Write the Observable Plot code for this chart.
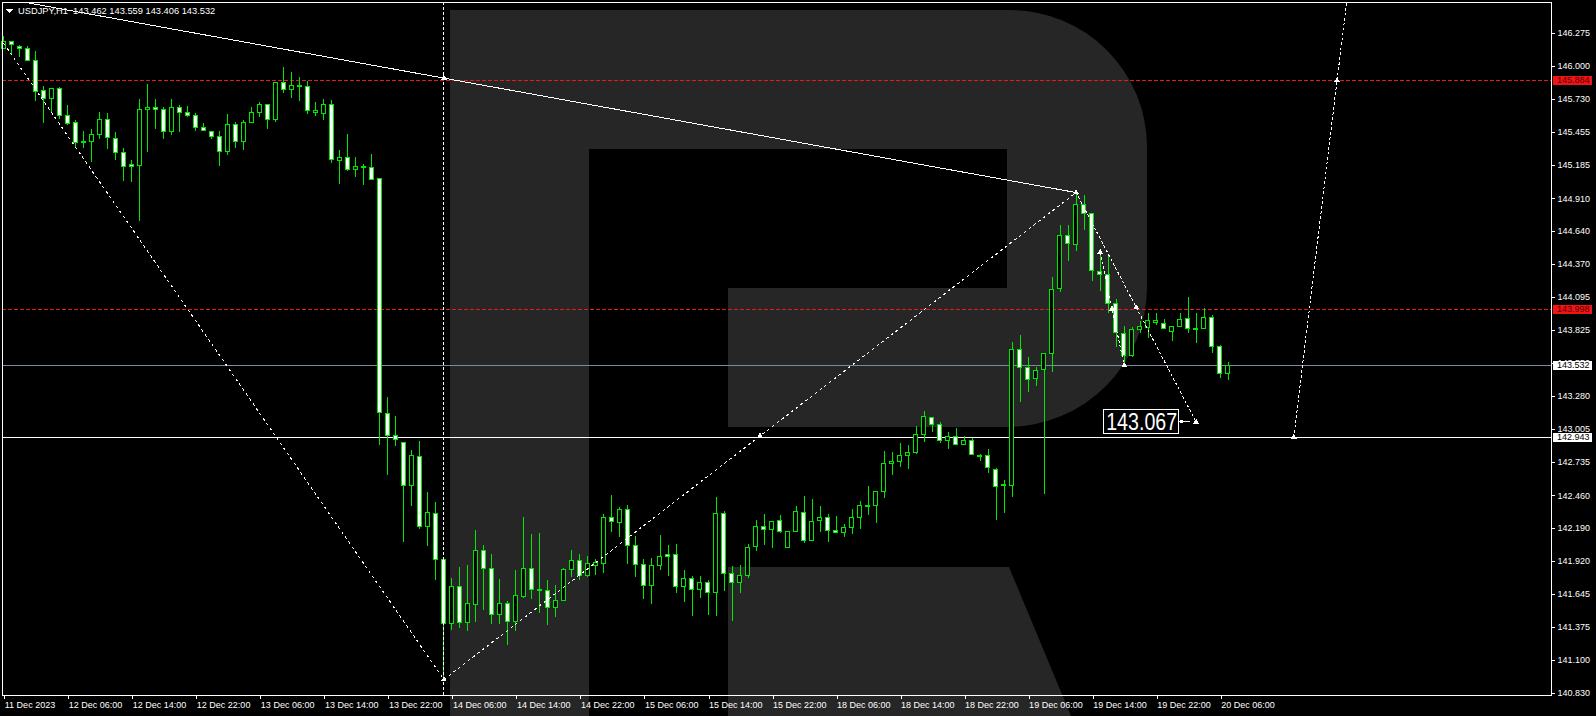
<!DOCTYPE html>
<html><head><meta charset="utf-8">
<script src="https://cdn.jsdelivr.net/npm/d3@7"></script>
<script src="https://cdn.jsdelivr.net/npm/@observablehq/plot@0.6"></script>
<style>
html,body{margin:0;padding:0;background:#000;overflow:hidden}
#chart svg{display:block}
</style></head><body><div id="chart"></div>
<script>
// ---- data ----
const symbolTitle = "USDJPY,H1  143.462 143.559 143.406 143.532";
const opens = [146.146,146.206,146.165,146.146,146.047,145.794,145.730,145.816,145.593,145.535,
145.370,145.376,145.433,145.560,145.403,145.288,145.189,145.178,145.642,145.659,
145.642,145.461,145.659,145.618,145.593,145.494,145.461,145.420,145.293,145.519,
145.378,145.535,145.618,145.684,145.560,145.865,145.807,145.833,145.832,145.615,
145.610,145.684,145.222,145.247,145.148,145.170,145.164,145.075,143.131,142.952,
142.892,142.540,142.778,142.202,142.310,141.929,141.403,141.707,141.412,141.559,
142.003,141.855,141.477,141.568,141.417,141.625,141.855,141.679,141.673,141.534,
141.591,141.846,141.917,141.798,141.880,141.895,142.276,142.232,142.342,142.045,
141.889,141.715,141.880,141.971,141.971,141.707,141.773,141.682,141.740,141.657,
142.309,141.814,141.740,141.798,142.034,142.205,142.177,142.252,142.029,142.161,
142.318,142.087,142.252,142.276,142.169,142.153,142.194,142.276,142.372,142.375,
142.491,142.722,142.738,142.788,142.813,142.961,143.101,143.044,142.914,142.942,
142.879,142.914,142.785,142.785,142.672,142.543,142.543,143.662,143.514,143.423,
143.497,143.629,144.166,144.603,144.529,144.861,144.784,144.303,144.281,144.042,
143.794,143.610,143.827,143.844,143.885,143.877,143.811,143.849,143.918,143.836,
143.833,143.929,143.690,143.462];
const highs = [146.248,146.206,146.173,146.165,146.124,145.835,145.816,145.824,145.678,145.554,
145.464,145.480,145.620,145.609,145.453,145.321,145.224,145.728,145.851,145.728,
145.659,145.728,145.678,145.670,145.609,145.527,145.461,145.464,145.604,145.535,
145.554,145.659,145.703,145.684,145.871,145.989,145.948,145.906,145.873,145.703,
145.728,145.720,145.307,145.439,145.247,145.192,145.274,145.080,143.270,143.114,
142.892,142.832,142.903,142.486,142.403,141.929,141.775,141.866,141.883,142.173,
142.048,141.974,141.767,141.588,141.844,142.278,142.139,142.148,141.758,141.719,
141.858,142.006,141.974,141.954,141.929,142.304,142.460,142.359,142.378,142.120,
141.933,141.938,142.131,142.048,142.056,141.842,141.792,141.792,141.759,142.444,
142.329,141.875,141.883,142.056,142.254,142.304,142.243,142.296,142.161,142.370,
142.452,142.428,142.370,142.304,142.287,142.219,142.342,142.411,142.535,142.491,
142.824,142.815,142.890,142.871,143.027,143.156,143.101,143.063,142.980,143.016,
142.950,142.934,142.802,142.837,142.681,142.584,143.726,143.781,143.596,143.520,
143.629,144.256,144.688,144.688,144.960,144.936,144.784,144.468,144.432,144.075,
143.858,143.849,143.896,143.959,143.959,143.910,143.855,143.959,144.094,143.959,
144.001,143.943,143.700,143.559];
const lows = [146.140,146.091,146.077,146.044,145.714,145.532,145.615,145.560,145.513,145.329,
145.326,145.211,145.398,145.318,145.224,145.054,145.046,144.724,145.293,145.480,
145.400,145.433,145.455,145.576,145.466,145.461,145.400,145.178,145.268,145.326,
145.307,145.535,145.576,145.480,145.535,145.774,145.739,145.714,145.604,145.588,
145.555,145.203,145.027,145.137,145.087,145.019,145.060,142.875,142.628,142.867,
142.076,142.372,142.179,142.042,141.761,140.943,141.349,141.366,141.340,141.417,
141.514,141.394,141.394,141.227,141.340,141.610,141.605,141.491,141.392,141.457,
141.591,141.787,141.758,141.787,141.804,141.821,142.157,142.117,141.894,141.787,
141.605,141.564,141.845,141.795,141.649,141.581,141.465,141.613,141.473,141.465,
141.671,141.424,141.655,141.779,142.001,142.048,142.026,142.147,142.029,142.161,
142.067,142.087,142.158,142.073,142.150,142.117,142.142,142.183,142.298,142.232,
142.439,142.628,142.694,142.672,142.799,142.900,142.978,142.887,142.837,142.879,
142.879,142.791,142.744,142.639,142.254,142.315,142.447,143.231,143.313,143.363,
142.469,143.473,144.138,144.394,144.476,144.647,144.229,144.146,143.965,143.679,
143.514,143.596,143.794,143.753,143.863,143.833,143.731,143.849,143.800,143.717,
143.833,143.635,143.430,143.406];
const closes = [146.206,146.176,146.143,146.044,145.788,145.730,145.816,145.590,145.524,145.367,
145.376,145.436,145.560,145.411,145.285,145.169,145.169,145.642,145.659,145.642,
145.461,145.659,145.618,145.590,145.494,145.469,145.417,145.293,145.519,145.378,
145.535,145.618,145.684,145.560,145.865,145.807,145.840,145.837,145.631,145.637,
145.684,145.230,145.247,145.148,145.173,145.175,145.065,143.142,142.952,142.921,
142.540,142.787,142.202,142.318,141.929,141.403,141.707,141.412,141.568,142.003,
141.855,141.477,141.568,141.417,141.633,141.855,141.679,141.676,141.534,141.591,
141.846,141.917,141.798,141.897,141.900,142.275,142.244,142.342,142.045,141.889,
141.715,141.880,141.955,141.955,141.707,141.773,141.682,141.740,141.657,142.309,
141.814,141.740,141.798,142.029,142.205,142.177,142.243,142.158,142.161,142.326,
142.087,142.243,142.276,142.169,142.153,142.194,142.276,142.375,142.378,142.491,
142.722,142.741,142.788,142.813,142.964,143.110,143.044,142.914,142.942,142.879,
142.914,142.799,142.786,142.689,142.535,142.545,143.662,143.514,143.415,143.492,
143.629,144.157,144.603,144.537,144.861,144.784,144.314,144.281,144.042,143.803,
143.613,143.827,143.847,143.902,143.902,143.838,143.855,143.910,143.836,143.838,
143.929,143.690,143.462,143.532];
const timeLabels = ["11 Dec 2023","12 Dec 06:00","12 Dec 14:00","12 Dec 22:00","13 Dec 06:00",
"13 Dec 14:00","13 Dec 22:00","14 Dec 06:00","14 Dec 14:00","14 Dec 22:00","15 Dec 06:00",
"15 Dec 14:00","15 Dec 22:00","18 Dec 06:00","18 Dec 14:00","18 Dec 22:00","19 Dec 06:00",
"19 Dec 14:00","19 Dec 22:00","20 Dec 06:00"];
const barsPerLabel = 8;
const priceTicks = [146.275,146.000,145.730,145.455,145.185,144.910,144.640,144.370,144.095,
143.825,143.550,143.280,143.005,142.735,142.460,142.190,141.920,141.645,141.375,141.100,140.830];
const redLevels = [145.884, 143.998];
const bidLevel = 143.532;
const supportLevel = 142.943;
const verticalBar = 55;
const trendBars = [-1, 55, 134];
const trendPrices = [146.573, 145.904, 144.960];
const zigzagBars = [0, 55, 134];
const zigzagPrices = [146.19, 140.943, 144.960];
const targetBars = [134, 149];
const targetPrices = [144.960, 143.067];
const pullbackBars = [137, 140];
const pullbackPrices = [144.468, 143.533];
const forecastBars = [161.2, 166.6, 168.8];
const forecastPrices = [142.943, 145.884, 147.06];
const markerBars = [55, 55, 94.5, 134, 137, 138.5, 140, 141.5, 149, 161.2, 166.6];
const markerPrices = [145.904, 140.943, 142.952, 144.960, 144.468, 144.0, 143.533, 144.013, 143.067, 142.943, 145.884];
const targetLabel = "143.067";

// ---- derived tables ----
const candles = opens.map((o, i) => {
  const c = closes[i];
  let top = Math.max(o, c), bot = Math.min(o, c);
  if (top - bot < 0.009) bot = top - 0.009;
  return {i, o, h: highs[i], l: lows[i], c, top, bot, up: c >= o};
});
const tickBars = timeLabels.map((_, k) => k * barsPerLabel);
const labelOf = new Map(tickBars.map((b, k) => [b, timeLabels[k]]));
const pts = (bs, ps) => bs.map((b, k) => ({b, p: ps[k]}));

const GREEN = "#00e800";
const FONT = "'Liberation Sans', Arial, sans-serif";
const W = 1596, H = 716;

const chart = Plot.plot({
  width: W, height: H,
  marginLeft: 2, marginRight: 45, marginTop: 2, marginBottom: 21,
  x: {type: "linear", domain: [-0.16, 193.4], label: null},
  y: {type: "linear", domain: [140.811, 146.528], label: null},
  style: {background: "#000", color: "#fff", fontFamily: FONT, fontSize: "9px"},
  marks: [
    Plot.ruleY([bidLevel], {stroke: "#7d8a99", strokeWidth: 1}),
    Plot.ruleY([supportLevel], {stroke: "#ffffff", strokeWidth: 1}),
    Plot.ruleY(redLevels, {stroke: "#e01c1c", strokeWidth: 1, strokeDasharray: "4,2"}),
    Plot.ruleX(candles, {x: "i", y1: "l", y2: "h", stroke: GREEN, strokeWidth: 1}),
    Plot.rect(candles.filter(d => d.up), {x1: d => d.i - 0.25, x2: d => d.i + 0.25, y1: "bot", y2: "top", fill: "#000", stroke: GREEN, strokeWidth: 1}),
    Plot.rect(candles.filter(d => !d.up), {x1: d => d.i - 0.25, x2: d => d.i + 0.25, y1: "bot", y2: "top", fill: "#fff", stroke: GREEN, strokeWidth: 1}),
    Plot.ruleX([verticalBar], {stroke: "#fff", strokeDasharray: "3,2"}),
    Plot.line(pts(trendBars, trendPrices), {x: "b", y: "p", stroke: "#fff", strokeWidth: 1, clip: true}),
    Plot.line(pts(zigzagBars, zigzagPrices), {x: "b", y: "p", stroke: "#fff", strokeWidth: 1, strokeDasharray: "2,4", clip: true}),
    Plot.line(pts(targetBars, targetPrices), {x: "b", y: "p", stroke: "#fff", strokeWidth: 1, strokeDasharray: "2,3", clip: true}),
    Plot.line(pts(pullbackBars, pullbackPrices), {x: "b", y: "p", stroke: "#fff", strokeWidth: 1, strokeDasharray: "2,3", clip: true}),
    Plot.line(pts(forecastBars, forecastPrices), {x: "b", y: "p", stroke: "#fff", strokeWidth: 1, strokeDasharray: "2,3", clip: true}),
    Plot.dot(pts(markerBars, markerPrices), {x: "b", y: "p", symbol: "triangle", r: 2.2, fill: "#fff", stroke: "none"}),
    Plot.axisX({ticks: tickBars, tickFormat: d => labelOf.get(d), anchor: "bottom", tickSize: 4, tickPadding: 2, textAnchor: "start", dx: 1, color: "#fff", label: null, fontSize: 9}),
    Plot.axisY({ticks: priceTicks, tickFormat: d3.format(".3f"), anchor: "right", tickSize: 3, tickPadding: 3, color: "#fff", label: null, fontSize: 9}),
    Plot.frame({stroke: "#fff", strokeWidth: 1})
  ]
});
chart.setAttribute("shape-rendering", "crispEdges");

const X = v => chart.scale("x").apply(v);
const Y = v => chart.scale("y").apply(v);
const svg = d3.select(chart);

// watermark logo (background decoration)
const wm = svg.insert("g", ":first-child").attr("fill", "#262626").attr("shape-rendering", "auto");
wm.append("path").attr("d", "M450,10 H1010 A137,137 0 0 1 1147,147 V287 A140,140 0 0 1 1007,427 H728 V288 H1007 V149 H589 V716 H450 Z");
wm.append("path").attr("d", "M728,567 H1009 L1071,716 H728 Z");
svg.insert("rect", ":first-child").attr("width", W).attr("height", H).attr("fill", "#000");

// axis price boxes
const axX = X(193.4);
const boxes = [
  ...redLevels.map(v => ({v, bg: "#f01414", fg: "#5a0000"})),
  {v: bidLevel, bg: "#ffffff", fg: "#000"},
  {v: supportLevel, bg: "#ffffff", fg: "#000"}
];
const bg = svg.append("g").attr("text-anchor", "start");
boxes.forEach(b => {
  const y = Y(b.v);
  bg.append("rect").attr("x", axX + 1.5).attr("y", Math.round(y) - 4.5).attr("width", 39.5).attr("height", 9.5).attr("fill", b.bg);
  bg.append("text").attr("x", axX + 6).attr("y", Math.round(y) + 3.4).attr("fill", b.fg).attr("text-anchor", "start")
    .attr("font-size", 9).attr("font-family", FONT).text(d3.format(".3f")(b.v));
});

// target label
const tx = X(targetBars[1]), ty = Y(targetPrices[1]);
const tg = svg.append("g").attr("text-anchor", "start");
tg.append("rect").attr("x", tx - 92).attr("y", ty - 12.5).attr("width", 74.5).attr("height", 24).attr("fill", "#000").attr("stroke", "#fff").attr("stroke-width", 1);
tg.append("text").attr("x", tx - 89.5).attr("y", ty + 8.3).attr("fill", "#fff").attr("font-size", 23).attr("text-anchor", "start")
  .attr("font-family", FONT).attr("textLength", 71).attr("lengthAdjust", "spacingAndGlyphs").text(targetLabel);
tg.append("line").attr("x1", tx - 17.5).attr("x2", tx - 6).attr("y1", ty).attr("y2", ty).attr("stroke", "#fff");
tg.append("rect").attr("x", tx - 16).attr("y", ty - 1.5).attr("width", 3).attr("height", 3).attr("fill", "#fff");

// title
const tt = svg.append("g").attr("text-anchor", "start");
tt.append("path").attr("d", "M6,9.3 H12.7 L9.35,13.3 Z").attr("fill", "#fff");
tt.append("text").attr("x", 18).attr("y", 14).attr("fill", "#fff").attr("font-size", 9.3).attr("text-anchor", "start")
  .attr("font-family", FONT).attr("xml:space", "preserve").style("white-space", "pre").text(symbolTitle);

document.getElementById("chart").appendChild(chart);
</script></body></html>
